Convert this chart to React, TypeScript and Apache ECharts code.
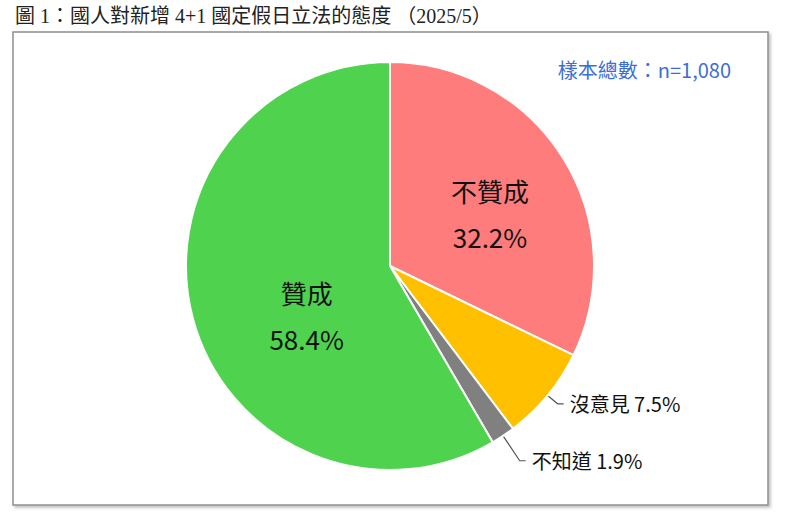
import React, { useEffect, useRef } from "react";
import * as echarts from "echarts";

const TITLE = "圖 1：國人對新增 4+1 國定假日立法的態度 （2025/5）";
const SAMPLE_NOTE = "樣本總數：n=1,080";

// clockwise from 12 o'clock
const CATEGORIES = ["不贊成", "沒意見", "不知道", "贊成"];
const PERCENTS = [32.2, 7.5, 1.9, 58.4];
const COLORS = ["#FF7C7C", "#FFC000", "#808080", "#4FD34F"];
const INSIDE = [true, false, false, true];

const CJK = '"Noto Sans CJK TC", "Noto Sans", sans-serif';

export default function App() {
  const chartRef = useRef<HTMLDivElement>(null);

  useEffect(() => {
    if (!chartRef.current) return;
    const chart = echarts.init(chartRef.current, undefined, { renderer: "svg" });

    // small nudges so the inner labels sit where the original places them
    const labelShift: Record<number, { dx: number; dy: number }> = {
      0: { dx: 11, dy: 3 },
      3: { dx: 18, dy: 22 },
    };

    const data = CATEGORIES.map((name, i) => ({
      name,
      value: PERCENTS[i],
      itemStyle: { color: COLORS[i] },
      label: INSIDE[i]
        ? {
            position: "inside",
            formatter: (p: any) => `${p.name}\n${p.value}%`,
            fontSize: 26,
            lineHeight: 46,
            color: "#111",
            fontFamily: CJK,
          }
        : {
            position: "outside",
            formatter: (p: any) => `${p.name} ${p.value}%`,
            fontSize: 20,
            color: "#111",
            fontFamily: CJK,
            distanceToLabelLine: 6,
          },
      labelLine: INSIDE[i]
        ? { show: false }
        : { show: true, length: name === "不知道" ? 30 : 13, length2: 6, lineStyle: { color: "#555", width: 1.2 } },
    }));

    chart.setOption({
      animation: false,
      backgroundColor: "#ffffff",
      title: {
        text: TITLE,
        left: 10,
        top: 1,
        textStyle: {
          fontFamily: '"Liberation Serif", "Noto Sans CJK TC", serif',
          fontSize: 20,
          fontWeight: "normal",
          color: "#222",
        },
      },
      graphic: [
        {
          type: "rect",
          z: 0,
          shape: { x: 13, y: 32, width: 755, height: 473 },
          style: {
            fill: "#ffffff",
            stroke: "#8f8f8f",
            lineWidth: 1.5,
            shadowBlur: 3,
            shadowOffsetX: 2,
            shadowOffsetY: 2,
            shadowColor: "rgba(0,0,0,0.25)",
          },
        },
        {
          type: "text",
          z: 5,
          x: 731,
          y: 69,
          style: {
            text: SAMPLE_NOTE,
            fill: "#3B6FD4",
            fontSize: 20,
            fontFamily: CJK,
            align: "right",
            verticalAlign: "middle",
          },
        },
      ],
      series: [
        {
          type: "pie",
          center: [390, 266],
          radius: 204,
          startAngle: 90,
          clockwise: true,
          avoidLabelOverlap: false,
          itemStyle: { borderColor: "#ffffff", borderWidth: 2 },
          emphasis: { disabled: true },
          labelLayout: (p: any) => labelShift[p.dataIndex] || {},
          data,
        },
      ],
    });

    return () => chart.dispose();
  }, []);

  return (
    <div
      ref={chartRef}
      style={{ position: "fixed", left: 0, top: 0, width: 786, height: 516 }}
    />
  );
}
